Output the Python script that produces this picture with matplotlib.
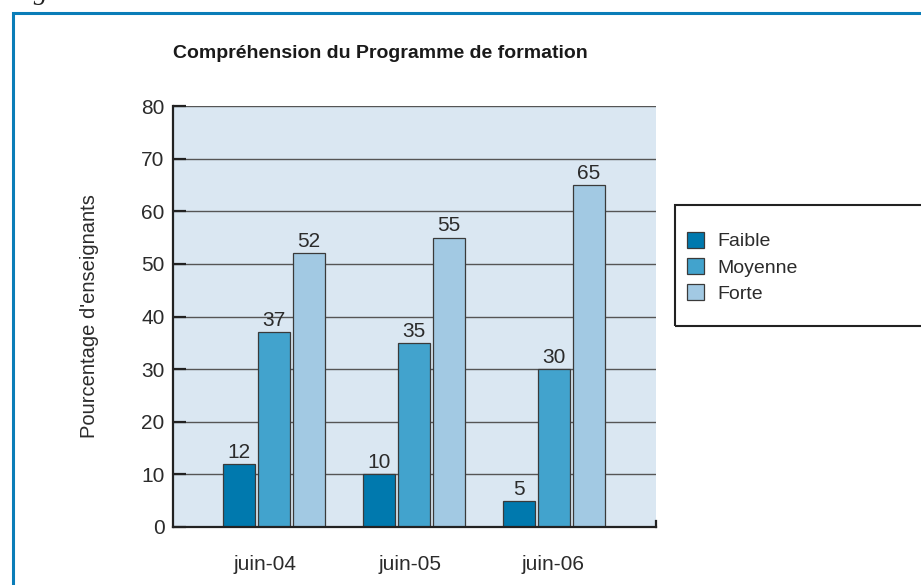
import matplotlib
matplotlib.use("Agg")
import matplotlib.pyplot as plt
from matplotlib.patches import Rectangle, Patch
from matplotlib.transforms import ScaledTranslation
import numpy as np

categories = ["juin-04", "juin-05", "juin-06"]
series_names = ["Faible", "Moyenne", "Forte"]
faible = [12, 10, 5]
moyenne = [37, 35, 30]
forte = [52, 55, 65]
yticks = [0, 10, 20, 30, 40, 50, 60, 70, 80]

colors = ["#0079ae", "#42a3cd", "#a2c9e3"]
edge = "#3a3a3a"
txt = "#2b2b2b"

plt.rcParams['font.family'] = ['Liberation Sans', 'DejaVu Sans']

fig = plt.figure(figsize=(9.21, 5.85), dpi=100)
ax = fig.add_axes([173/921, 1-527/585, (656-173)/921, (527-106)/585])
ax.set_facecolor("#dae7f2")

x = np.arange(len(categories))
w = 0.23
step = 0.25
for i, (vals, name) in enumerate(zip([faible, moyenne, forte], series_names)):
    pos = x + (i - 1) * step
    ax.bar(pos, vals, width=w, color=colors[i], edgecolor=edge, linewidth=0.9,
           label=name, zorder=3)
    for p, v in zip(pos, vals):
        ax.text(p, v + 0.4, str(v), ha="center", va="bottom", fontsize=15, color=txt, zorder=4)

ax.set_xlim(-0.72, 2.73)
ax.set_ylim(0, 80)
ax.set_yticks(yticks)
ax.set_yticklabels([str(t) for t in yticks], fontsize=15, color=txt)
ax.set_xticks(x)
ax.set_xticklabels(categories, fontsize=15, color=txt)
ax.tick_params(axis="x", length=0, pad=20)
ax.tick_params(axis="y", direction="in", length=9, width=1.6, color="#222222", pad=6)
# slight horizontal offsets of the category labels as in the reference
for lab, dx in zip(ax.get_xticklabels(), [-9, -4, -1]):
    lab.set_transform(lab.get_transform() + ScaledTranslation(dx/100, 0, fig.dpi_scale_trans))
ax.yaxis.grid(True, color="#555555", linewidth=1.0, zorder=1)
ax.set_axisbelow(True)
for s in ["top", "right"]:
    ax.spines[s].set_visible(False)
for s in ["left", "bottom"]:
    ax.spines[s].set_color("#222222")
    ax.spines[s].set_linewidth(1.6)
    ax.spines[s].set_zorder(5)
# small end tick at right of the x axis
ax.plot([2.73, 2.73], [0, 1.2], color="#222222", lw=1.6, clip_on=False, zorder=5)

ax.set_ylabel("Pourcentage d'enseignants", fontsize=14.5, color=txt)
ax.yaxis.set_label_coords(-(173-99)/483, 0.5)

fig.text(173/921, 1-53/585, "Compréhension du Programme de formation", fontsize=14,
         fontweight="bold", color="#1a1a1a", ha="left", va="center")

handles = [Patch(facecolor=c, edgecolor=edge, linewidth=0.9, label=n) for c, n in zip(colors, series_names)]
leg = fig.legend(handles=handles, loc="upper left", bbox_to_anchor=(687/921, 1-232/585),
                 frameon=False, fontsize=14, handlelength=0.85, handleheight=0.85,
                 handletextpad=0.7, labelspacing=0.39, borderpad=0, borderaxespad=0)
for t in leg.get_texts():
    t.set_color(txt)
fig.patches.append(Rectangle((675/921, 1-326/585), 0.5, (326-205)/585, transform=fig.transFigure,
                             fill=False, edgecolor="#222222", linewidth=1.5))

# blue frame around the figure
fig.patches.append(Rectangle((12.5/921, -0.05), 1.0, 1.05 - 13/585, transform=fig.transFigure,
                             fill=False, edgecolor="#0a7db8", linewidth=2.2))
# cut-off heading at the top-left
fig.text(9/921, 1.0 + 1/585, "Fig", fontsize=20, style="italic", family="Liberation Serif",
         color="#222222", ha="left", va="baseline")

fig.savefig("out.png", dpi=100)
